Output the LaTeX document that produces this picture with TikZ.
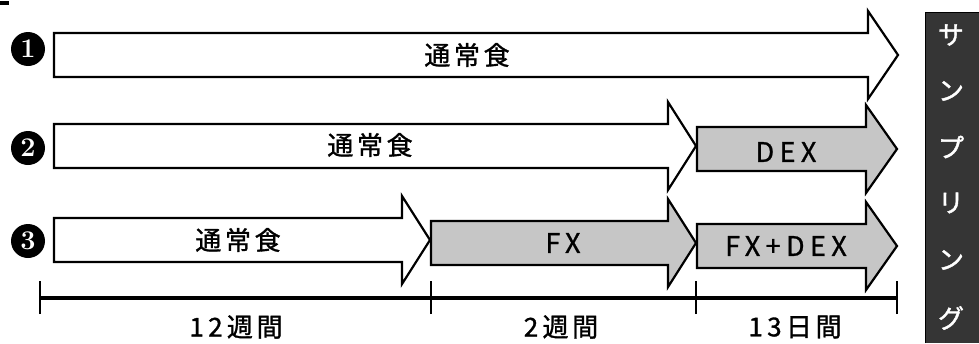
\documentclass[tikz,border=0pt]{standalone}
\usepackage{fontspec}
\newfontfamily\cjk[FakeBold=1.5]{Noto Sans CJK JP}
\newfontfamily\cjksp[LetterSpace=14,FakeBold=1.2]{Noto Sans CJK JP}
\newfontfamily\cjkwide[LetterSpace=20,FakeBold=1.0]{Noto Sans CJK JP}
\definecolor{arrgrey}{HTML}{C6C6C6}
\definecolor{sidegrey}{HTML}{353535}
\newcommand\blockarrow[6]{%
  % #1 name, #2 x start, #3 x head base, #4 x tip, #5 y centre, #6 fill
  \filldraw[arrshape, fill=#6] (#2,{#5-22}) -- (#3,{#5-22}) -- (#3,{#5-44}) -- (#4,#5)
    -- (#3,{#5+44}) -- (#3,{#5+22}) -- (#2,{#5+22}) -- cycle;
  \coordinate (#1) at ({(#2+#3)/2},#5);
}
\begin{document}
\begin{tikzpicture}[x=1pt,y=-1pt,
  arrshape/.style={draw=black, line width=2.2pt, line join=miter},
  lbl/.style={font=\cjksp\fontsize{26}{28}\selectfont, inner sep=0pt},
  wlbl/.style={font=\cjkwide\fontsize{27}{29}\selectfont, inner sep=0pt},
  num/.style={circle, fill=black, minimum size=34pt, inner sep=0pt, text=white,
    font=\fontsize{27}{27}\selectfont\bfseries},
  tline/.style={line width=3.6pt},
  tick/.style={line width=2.6pt},
  kana/.style={text=white, font=\cjk\fontsize{26}{26}\selectfont, inner sep=0pt}]
\useasboundingbox (0,0) rectangle (979,343);
% scan mark top left
\fill[black] (0,1) rectangle (9,5);
% row 1
\blockarrow{a1}{54}{868}{898}{55}{white}
% row 2
\blockarrow{a2}{54}{668}{696}{146}{white}
\blockarrow{a2b}{697}{866}{897}{149}{arrgrey}
% row 3
\blockarrow{a3}{54}{402}{430}{240}{white}
\blockarrow{a3b}{431}{668}{696}{243}{arrgrey}
\blockarrow{a3c}{697}{866}{897}{246}{arrgrey}
% labels
\node[lbl] (t1) at (467,55) {通常食};
\node[lbl] (t2) at (370,145) {通常食};
\node[lbl] (t3) at (238,240) {通常食};
\node[wlbl] (t4) at (563,243) {FX};
\node[wlbl] (t5) at (786,152) {DEX};
\node[wlbl] (t6) at (786,246) {FX+DEX};
% circled numbers
\node[num] (n1) at (28,49) {1};
\node[num] (n2) at (28,148) {2};
\node[num] (n3) at (28,241) {3};
% timeline
\coordinate (p0) at (40,298);
\coordinate (p1) at (431,298);
\coordinate (p2) at (696,298);
\coordinate (p3) at (897,298);
\draw[tline] (p0) -- (p3);
\foreach \p in {p0,p1,p2,p3} \draw[tick] ([yshift=-16pt]\p) -- ([yshift=17pt]\p);
\node[lbl] (d1) at (236,327) {1\,2\,週間};
\node[lbl] (d2) at (561,327) {2\,週間};
\node[lbl] (d3) at (795,327) {1\,3\,日間};
% sampling box
\fill[sidegrey] (925,12) rectangle (979,343);
\draw[line width=1pt, black] (925,343) -- (925,12) -- (979,12);
\foreach \k/\y in {サ/35,ン/91,プ/147,リ/203,ン/260,グ/318}
  \node[kana] at (951,\y) {\k};
\end{tikzpicture}
\end{document}
